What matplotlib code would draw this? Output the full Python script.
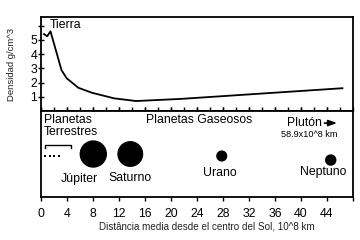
import matplotlib
matplotlib.use('Agg')
import matplotlib.pyplot as plt

plt.rcParams['font.family'] = ['Liberation Sans', 'DejaVu Sans']

# densidad media vs distancia (10^8 km)
dist = [0.4, 0.9, 1.4, 3.1, 3.9, 5.7, 7.8, 11.2, 14.6, 21.5, 46.4]
dens = [5.4, 5.25, 5.6, 2.87, 2.3, 1.63, 1.28, 0.89, 0.7, 0.85, 1.6]

# planetas en el panel inferior
names = ['Júpiter', 'Saturno', 'Urano', 'Neptuno']
pos = [8.0, 13.7, 27.8, 44.6]
height = [0.5, 0.5, 0.477, 0.43]
sizes = [350, 311, 49, 52]
label_x = [5.9, 13.6, 27.5, 43.4]
label_y = [0.21, 0.22, 0.28, 0.29]

terr_x = [0.6, 1.28, 1.95, 2.65]

xticks = [0, 4, 8, 12, 16, 20, 24, 28, 32, 36, 40, 44, 48]
xlabels = ['0', '4', '8', '12', '16', '20', '24', '28', '32', '36', '40', '44', '']

FS = 8.8


def main():
	fig = plt.figure(figsize=(3.6, 2.4), dpi=100)
	ax1 = fig.add_axes([0.115, 0.5375, 0.865, 0.3915])
	ax2 = fig.add_axes([0.115, 0.179, 0.865, 0.3585])

	for ax in (ax1, ax2):
		for s in ax.spines.values():
			s.set_linewidth(1.3)
		ax.set_xlim(0, 48)

	# panel superior
	ax1.plot(dist, dens, color='black', lw=1.3)
	ax1.set_ylim(0, 6.6)
	ax1.set_yticks([1, 2, 3, 4, 5, 6])
	ax1.set_yticklabels(['1', '2', '3', '4', '5', ''])
	ax1.set_xticks(range(0, 48, 2))
	ax1.tick_params(axis='x', direction='in', length=3, width=1, labelbottom=False)
	ax1.tick_params(axis='y', direction='inout', length=4, width=1, labelsize=FS, pad=1)
	ax1.text(1.3, 5.8, 'Tierra', fontsize=FS)

	# panel inferior
	ax2.set_ylim(0, 1)
	ax2.set_yticks([])
	ax2.set_xticks(xticks)
	ax2.set_xticklabels(xlabels)
	ax2.tick_params(axis='x', direction='out', length=3, width=1, labelsize=FS, pad=5, top=True)
	ax2.scatter(pos, height, s=sizes, color='black', zorder=3)
	for n, x, y in zip(names, label_x, label_y):
		ax2.text(x, y, n, fontsize=FS, ha='center', va='center')
	ax2.scatter(terr_x, [0.48] * 4, s=1.5, marker='s', color='black', linewidths=0)
	ax2.plot([0.6, 0.6, 4.6, 4.6], [0.575, 0.605, 0.605, 0.575], color='black', lw=1)
	ax2.text(0.39, 0.96, 'Planetas\nTerrestres', fontsize=FS, va='top', ha='left', linespacing=0.95)
	ax2.text(24.3, 0.96, 'Planetas Gaseosos', fontsize=FS, va='top', ha='center')
	ax2.text(43.2, 0.86, 'Plutón', fontsize=FS, va='center', ha='right')
	ax2.annotate('', xy=(46.0, 0.86), xytext=(43.2, 0.86),
		arrowprops=dict(arrowstyle='-|>,head_length=0.5,head_width=0.18', color='black', lw=1.2, mutation_scale=10))
	ax2.text(41.3, 0.73, '58.9x10^8 km', fontsize=6.6, va='center', ha='center')

	fig.text(0.031, 0.73, 'Densidad g/cm^3', rotation=90, fontsize=6.8, color='#222222', ha='center', va='center')
	fig.text(0.575, 0.058, 'Distância media desde el centro del Sol, 10^8 km', fontsize=7.1,
		color='#222222', ha='center', va='center')

	fig.savefig('out.png', dpi=100)


if __name__ == '__main__':
	main()
